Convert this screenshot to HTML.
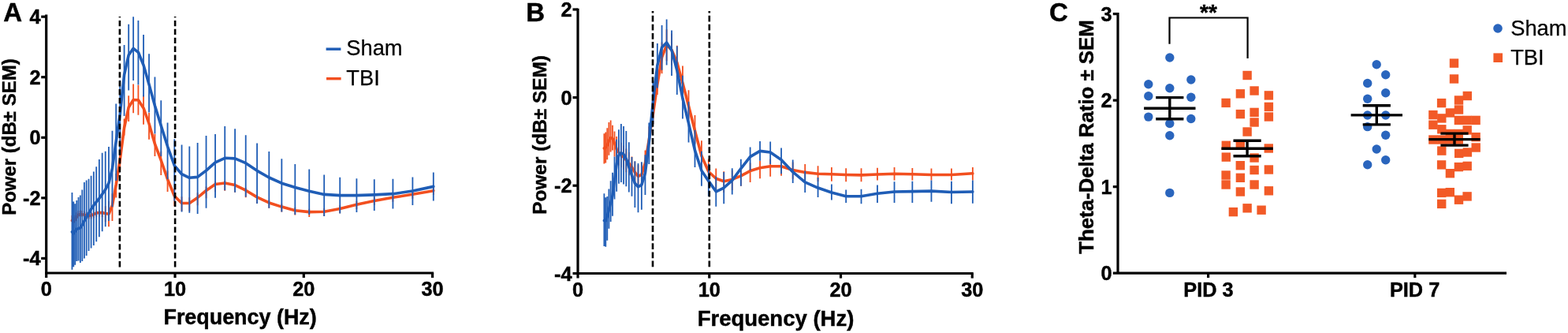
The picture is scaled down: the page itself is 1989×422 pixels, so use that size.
<!DOCTYPE html>
<html><head><meta charset="utf-8"><title>Figure</title>
<style>html,body{margin:0;padding:0;background:#fff;width:1989px;height:422px;overflow:hidden}svg{display:block}</style>
</head><body>
<svg width="1989" height="422" viewBox="0 0 1989 422" font-family="'Liberation Sans', Arial, sans-serif">
<rect width="1989" height="422" fill="#fff"/>
<g stroke="#000" stroke-width="3.2" fill="none">
<path d="M58.7 18.6V352"/>
<path d="M57.2 346H550.1"/>
<path d="M52.2 21.18H58.7"/>
<path d="M52.2 97.74H58.7"/>
<path d="M52.2 174.3H58.7"/>
<path d="M52.2 250.86H58.7"/>
<path d="M52.2 327.42H58.7"/>
<path d="M222 346V352"/>
<path d="M385.3 346V352"/>
<path d="M548.6 346V352"/>
</g>
<path d="M91.44 273V280.5M93.3 274.96V282.5M95.27 272.74V280.31M97.34 269.37V276.97M99.54 266.92V274.57M101.86 266.48V274.16M104.31 267.01V274.72M106.9 267.72V275.47M109.64 268.95V276.74M112.54 269.59V277.42M115.6 269.28V277.14M118.83 268.32V276.21M122.25 266.85V274.78M125.86 266.59V274.55M129.67 267V275M133.71 261.15V281.3M137.97 255V287.3M142.47 245.16V280.1M147.23 220.05V250.48M152.27 189.32V215.23M157.58 150.4V171.8M163.2 121.3V154M169.14 106.6V143.3M175.41 107.8V145.7M182.05 120.5V157.8M189.05 143V176.8M196.46 169.81V198M204.29 191.66V222M212.56 216.58V242.89M221.3 239.07V261.34M230.54 249.16V267.4M240.31 250.3V267.41M250.63 244.37V260.35M261.53 236.48V251.34M273.06 229.65V243.37M285.24 229.2V241.8M298.11 231.6V243.7M311.72 238.12V250.3M326.09 246.64V257.9M341.29 253.56V263.8M357.34 258.49V268.6M374.31 262.96V272.6M392.25 264.64V275M411.2 264.06V274.1M431.23 260.18V270.29M452.4 254.85V265.04M474.77 249.81V260.08M498.41 245.5V255.84M523.4 241.31V251.73M549.8 236.5V247" stroke="#f24f1f" stroke-width="1.8" fill="none"/>
<polyline points="91.44,279.39 93.3,281.09 95.27,278.59 97.34,274.95 99.54,272.24 101.86,271.52 104.31,271.79 106.9,272.23 109.64,273.19 112.54,273.56 115.6,272.98 118.83,271.75 122.25,270.01 125.86,269.48 129.67,269.62 133.71,270.59 137.97,271.26 142.47,260.26 147.23,233.99 152.27,202.08 157.58,162 163.2,135.92 169.14,126.43 175.41,126.82 182.05,136.92 189.05,156.77 196.46,182.48 204.29,203.23 212.56,227.06 221.3,248.45 230.54,257.44 240.31,257.48 250.63,250.46 261.53,241.47 273.06,233.54 285.24,232 298.11,234.52 311.72,241.21 326.09,249.9 341.29,256.99 357.34,262.1 374.31,266.75 392.25,268.6 411.2,268.2 431.23,264.49 452.4,259.33 474.77,254.47 498.41,250.33 523.4,246.32 549.8,241.68" stroke="#f24f1f" stroke-width="3.6" fill="none" stroke-linejoin="round" stroke-linecap="round"/>
<path d="M91.44 244V341.8M93.3 255.4V338.2M95.27 258.2V335.8M97.34 253.9V331.1M99.54 250.1V330.6M101.86 247.5V333M104.31 240.4V331.1M106.9 230.9V327.5M109.64 228.6V324M112.54 226.7V318M115.6 222.7V314.5M118.83 217.4V311M122.25 211.3V306.2M125.86 202V300.3M129.67 193.7V293.2M133.71 191.8V287.3M137.97 185.9V280.1M142.47 165.8V262.15M147.23 131.5V229.06M152.27 101.72V195.5M157.58 56.9V146.9M163.2 30.8V114.5M169.14 21.3V102.1M175.41 26.1V107.4M182.05 44V122.5M189.05 68.2V142.4M196.46 97.6V169.5M204.29 127.3V197.97M212.56 155.4V227.21M221.3 176.2V254.7M230.54 183.5V268.6M240.31 185.5V269.8M250.63 181V270.9M261.53 171.9V263.8M273.06 170V250.8M285.24 160.1V241.3M298.11 163.2V243.7M311.72 171.2V249.6M326.09 181.4V257.9M341.29 192V263.8M357.34 201.3V268.6M374.31 207.9V272.1M392.25 214.6V272M411.2 221.5V274.1M431.23 224.8V270.6M452.4 226.3V268.9M474.77 227.2V267M498.41 226.7V264.6M523.4 224.4V259.9M549.8 218.4V254.5" stroke="#1f5db6" stroke-width="1.8" fill="none"/>
<polyline points="91.44,293.83 93.3,295.98 95.27,293.23 97.34,290.33 99.54,289.61 101.86,288.75 104.31,285.2 106.9,280.03 109.64,275.26 112.54,270.21 115.6,265.08 118.83,260.17 122.25,255.82 125.86,251.36 129.67,246.08 133.71,240.21 137.97,232.17 142.47,213.22 147.23,179.12 152.27,144.56 157.58,94.95 163.2,69.68 169.14,61.29 175.41,66.3 182.05,82.47 189.05,106.92 196.46,133.93 204.29,159.33 212.56,185.49 221.3,209.9 230.54,220.73 240.31,225.32 250.63,224.38 261.53,216.17 273.06,205.84 285.24,200.3 298.11,200.84 311.72,206.71 326.09,216.32 341.29,224.99 357.34,232.23 374.31,237.59 392.25,242.29 411.2,246.41 431.23,247.6 452.4,247.6 474.77,246.89 498.41,245.67 523.4,242.01 549.8,236.38" stroke="#1f5db6" stroke-width="3.6" fill="none" stroke-linejoin="round" stroke-linecap="round"/>
<g stroke="#000" stroke-width="2.6" stroke-dasharray="7.3 3.6" stroke-dashoffset="5.9" fill="none">
<path d="M151.9 20.9V341"/><path d="M222.1 20.9V341"/>
</g>
<text x="51.6" y="30.24" font-size="25.3" font-weight="bold" text-anchor="end" stroke="#000" stroke-width="0.45">4</text>
<text x="51.6" y="106.8" font-size="25.3" font-weight="bold" text-anchor="end" stroke="#000" stroke-width="0.45">2</text>
<text x="51.6" y="183.36" font-size="25.3" font-weight="bold" text-anchor="end" stroke="#000" stroke-width="0.45">0</text>
<text x="51.6" y="259.92" font-size="25.3" font-weight="bold" text-anchor="end" stroke="#000" stroke-width="0.45">-2</text>
<text x="51.6" y="336.48" font-size="25.3" font-weight="bold" text-anchor="end" stroke="#000" stroke-width="0.45">-4</text>
<text x="58.7" y="375.2" font-size="25.3" font-weight="bold" text-anchor="middle" stroke="#000" stroke-width="0.45">0</text>
<text x="222" y="375.2" font-size="25.3" font-weight="bold" text-anchor="middle" stroke="#000" stroke-width="0.45">10</text>
<text x="385.3" y="375.2" font-size="25.3" font-weight="bold" text-anchor="middle" stroke="#000" stroke-width="0.45">20</text>
<text x="548.6" y="375.2" font-size="25.3" font-weight="bold" text-anchor="middle" stroke="#000" stroke-width="0.45">30</text>
<text x="304.6" y="411.2" font-size="26.9" font-weight="bold" text-anchor="middle" stroke="#000" stroke-width="0.45">Frequency (Hz)</text>
<text x="0" y="0" font-size="24" font-weight="bold" text-anchor="middle" stroke="#000" stroke-width="0.45" transform="translate(20.2 173.6) rotate(-90)">Power (dB&#177; SEM)</text>
<text x="4.2" y="27.4" font-size="33" font-weight="bold" text-anchor="start" stroke="#000" stroke-width="0.45">A</text>
<path d="M413.6 62.2H432.4" stroke="#1f5db6" stroke-width="3.4"/>
<path d="M414 99.7H432.6" stroke="#f24f1f" stroke-width="3.4"/>
<text x="439.3" y="70.3" font-size="27.3" font-weight="normal" text-anchor="start" stroke="#000" stroke-width="0.25">Sham</text>
<text x="439.3" y="107.8" font-size="27.3" font-weight="normal" text-anchor="start" stroke="#000" stroke-width="0.25">TBI</text>
<g stroke="#000" stroke-width="3.2" fill="none">
<path d="M733 10.7V352.6"/>
<path d="M731.5 346.5H1234.75"/>
<path d="M726.5 12H733"/>
<path d="M726.5 123.6H733"/>
<path d="M726.5 235.2H733"/>
<path d="M726.5 346.5H733"/>
<path d="M899.75 346.5V352.6"/>
<path d="M1066.5 346.5V352.6"/>
<path d="M1233.25 346.5V352.6"/>
</g>
<path d="M766.39 169.3V207.5M768.29 167.5V206.6M770.29 162.2V202.2M772.41 155.1V196.8M774.65 152.4V192.4M777.02 158.7V190.6M779.52 166.6V198.6M782.16 172.9V205.73M784.96 177.69V209.77M787.91 180.87V212.21M791.03 184.47V215.06M794.32 188.45V218.3M797.81 193.1V222.2M801.49 198.6V226.96M805.38 204.8V233.09M809.5 209.11V237.9M813.84 206.24V235.54M818.44 190.59V220.39M823.29 160.35V190.65M828.42 126.7V157.5M833.84 88.6V119.9M839.58 53.6V93.3M845.63 37.28V77.13M852.03 42.62V82.63M858.79 57.8V97.96M865.94 83.5V123.16M873.5 114.3V151.59M881.48 145.9V182.34M889.92 178.2V213.54M898.83 201.58V233M908.26 213.6V241.09M918.21 217.2V243.97M928.74 215.68V240.92M939.86 211.99V235.7M951.61 206.6V231M964.04 203.7V226.2M977.17 201.41V223.8M991.04 201.07V222.7M1005.7 205.43V226.67M1021.2 208V228.86M1037.57 210.3V230.02M1054.88 212V229.8M1073.17 213.2V230.2M1092.5 213.2V230.2M1112.93 212.7V228.6M1134.51 212V228.6M1157.33 213V228.6M1181.44 213.5V228.6M1206.92 213.5V228.6M1233.85 212V228.6" stroke="#f24f1f" stroke-width="1.8" fill="none"/>
<polyline points="766.39,187.97 768.29,187.11 770.29,184.12 772.41,178.28 774.65,174.6 777.02,175.39 779.52,181.51 782.16,188.94 784.96,193.28 787.91,196 791.03,199.15 794.32,202.68 797.81,206.87 801.49,211.93 805.38,218.35 809.5,223.45 813.84,221.38 818.44,206.53 823.29,177.08 828.42,144.22 833.84,106.92 839.58,72.72 845.63,57.19 852.03,63.32 858.79,79.3 865.94,105.14 873.5,134.21 881.48,165.61 889.92,197.45 898.83,217.54 908.26,226.28 918.21,229.8 928.74,227.39 939.86,222.81 951.61,216.54 964.04,212.75 977.17,210.8 991.04,210.8 1005.7,215.5 1021.2,218.41 1037.57,220.29 1054.88,220.8 1073.17,221.5 1092.5,221.9 1112.93,221 1134.51,220.3 1157.33,220.81 1181.44,221.5 1206.92,221.5 1233.85,219.8" stroke="#f24f1f" stroke-width="3.6" fill="none" stroke-linejoin="round" stroke-linecap="round"/>
<path d="M766.39 245.3V311.9M768.29 250.16V312.8M770.29 248.9V304.8M772.41 239.39V289.7M774.65 229.37V280.9M777.02 218.87V273.7M779.52 198.55V252.4M782.16 176.65V242.7M784.96 164.2V232.74M787.91 157.1V231M791.03 160.1V233.6M794.32 166V236.3M797.81 180.3V243.4M801.49 199V248.8M805.38 204.3V263.1M809.5 207V269.3M813.84 205.2V265.8M818.44 196.3V247.1M823.29 155.39V208.12M828.42 102.52V157.18M833.84 54.9V111.49M839.58 32V88.8M845.63 24.5V82.6M852.03 38.5V96M858.79 58.6V119.9M865.94 95.84V150.4M873.5 128.72V180.6M881.48 164.79V212M889.92 191.8V235.7M898.83 207.74V248.69M908.26 223.8V261.8M918.21 217.9V258.2M928.74 213.2V246.4M939.86 201.8V235.7M951.61 186.6V215.9M964.04 179V203.7M977.17 179.4V208.12M991.04 187.4V220.3M1005.7 202.5V232.1M1021.2 216.7V244M1037.57 225V249.9M1054.88 233.6V253.5M1073.17 240.4V257M1092.5 239.7V258.2M1112.93 234.5V257M1134.51 230.2V257M1157.33 229.8V257M1181.44 228.6V255.8M1206.92 229.8V258.2M1233.85 228.6V257.7" stroke="#1f5db6" stroke-width="1.8" fill="none"/>
<polyline points="766.39,279.48 768.29,279.83 770.29,274.06 772.41,265.78 774.65,257 777.02,247.73 779.52,228.64 782.16,207.97 784.96,196.76 787.91,193.77 791.03,195.5 794.32,201.43 797.81,211.74 801.49,222.08 805.38,232.34 809.5,236.77 813.84,234.38 818.44,219.21 823.29,180.01 828.42,128.85 833.84,82.94 839.58,60.02 845.63,53.91 852.03,63.88 858.79,89.02 865.94,124.74 873.5,156.1 881.48,190.65 889.92,216.13 898.83,229.41 908.26,242.8 918.21,238.03 928.74,228.56 939.86,213.52 951.61,198.66 964.04,191.4 977.17,193.08 991.04,202.53 1005.7,217.9 1021.2,230.96 1037.57,238.05 1054.88,244.02 1073.17,248.7 1092.5,248.7 1112.93,245.21 1134.51,243.01 1157.33,242.6 1181.44,242.1 1206.92,243.5 1233.85,243" stroke="#1f5db6" stroke-width="3.6" fill="none" stroke-linejoin="round" stroke-linecap="round"/>
<g stroke="#000" stroke-width="2.6" stroke-dasharray="7.8 3.3" stroke-dashoffset="5.4" fill="none">
<path d="M828.0 14V340"/><path d="M899.8 14V340"/>
</g>
<text x="725.6" y="21.06" font-size="25.3" font-weight="bold" text-anchor="end" stroke="#000" stroke-width="0.45">2</text>
<text x="725.6" y="132.66" font-size="25.3" font-weight="bold" text-anchor="end" stroke="#000" stroke-width="0.45">0</text>
<text x="725.6" y="244.26" font-size="25.3" font-weight="bold" text-anchor="end" stroke="#000" stroke-width="0.45">-2</text>
<text x="725.6" y="355.86" font-size="25.3" font-weight="bold" text-anchor="end" stroke="#000" stroke-width="0.45">-4</text>
<text x="733" y="376.2" font-size="25.3" font-weight="bold" text-anchor="middle" stroke="#000" stroke-width="0.45">0</text>
<text x="899.75" y="376.2" font-size="25.3" font-weight="bold" text-anchor="middle" stroke="#000" stroke-width="0.45">10</text>
<text x="1066.5" y="376.2" font-size="25.3" font-weight="bold" text-anchor="middle" stroke="#000" stroke-width="0.45">20</text>
<text x="1233.25" y="376.2" font-size="25.3" font-weight="bold" text-anchor="middle" stroke="#000" stroke-width="0.45">30</text>
<text x="984" y="413" font-size="27.5" font-weight="bold" text-anchor="middle" stroke="#000" stroke-width="0.45">Frequency (Hz)</text>
<text x="0" y="0" font-size="24.4" font-weight="bold" text-anchor="middle" stroke="#000" stroke-width="0.45" transform="translate(693.1 170.9) rotate(-90)">Power (dB&#177; SEM)</text>
<text x="667.3" y="27.4" font-size="33" font-weight="bold" text-anchor="start" stroke="#000" stroke-width="0.45">B</text>
<g stroke="#000" stroke-width="3.2" fill="none">
<path d="M1418 16.1V346.2"/>
<path d="M1411.8 346.2H1911"/>
<path d="M1411.8 17.61H1418"/>
<path d="M1411.8 127.14H1418"/>
<path d="M1411.8 236.67H1418"/>
<path d="M1532.6 346.2V352"/>
<path d="M1794.8 346.2V352"/>
</g>
<text x="1410.6" y="26.67" font-size="25.3" font-weight="bold" text-anchor="end" stroke="#000" stroke-width="0.45">3</text>
<text x="1410.6" y="136.2" font-size="25.3" font-weight="bold" text-anchor="end" stroke="#000" stroke-width="0.45">2</text>
<text x="1410.6" y="245.73" font-size="25.3" font-weight="bold" text-anchor="end" stroke="#000" stroke-width="0.45">1</text>
<text x="1410.6" y="355.26" font-size="25.3" font-weight="bold" text-anchor="end" stroke="#000" stroke-width="0.45">0</text>
<text x="1533" y="376.3" font-size="25.3" font-weight="bold" text-anchor="middle" stroke="#000" stroke-width="0.45">PID 3</text>
<text x="1794.6" y="376.3" font-size="25.3" font-weight="bold" text-anchor="middle" stroke="#000" stroke-width="0.45">PID 7</text>
<text x="0" y="0" font-size="25.8" font-weight="bold" text-anchor="middle" stroke="#000" stroke-width="0.45" transform="translate(1387 173.5) rotate(-90)">Theta-Delta Ratio &#177; SEM</text>
<text x="1330.9" y="27.4" font-size="33" font-weight="bold" text-anchor="start" stroke="#000" stroke-width="0.45">C</text>
<path d="M1483.5 55.7V22.5H1582.6V74" stroke="#000" stroke-width="2.2" fill="none"/>
<text x="1533" y="24.5" font-size="28" font-weight="bold" text-anchor="middle" stroke="#000" stroke-width="0.45">**</text>
<g fill="#2a65bd">
<circle cx="1483.8" cy="73" r="5.7"/>
<circle cx="1510.8" cy="101" r="5.7"/>
<circle cx="1456.8" cy="106.8" r="5.7"/>
<circle cx="1483.8" cy="111.7" r="5.7"/>
<circle cx="1456.8" cy="121.8" r="5.7"/>
<circle cx="1510.8" cy="123.2" r="5.7"/>
<circle cx="1456.8" cy="148.1" r="5.7"/>
<circle cx="1510.8" cy="150.5" r="5.7"/>
<circle cx="1483.8" cy="156.5" r="5.7"/>
<circle cx="1483.8" cy="171.8" r="5.7"/>
<circle cx="1483.8" cy="244.4" r="5.7"/>
<circle cx="1746.2" cy="81.8" r="5.7"/>
<circle cx="1757.7" cy="94.8" r="5.7"/>
<circle cx="1734.7" cy="105.5" r="5.7"/>
<circle cx="1757.7" cy="117.8" r="5.7"/>
<circle cx="1734.7" cy="125.2" r="5.7"/>
<circle cx="1734.7" cy="146" r="5.7"/>
<circle cx="1757.7" cy="146" r="5.7"/>
<circle cx="1734.7" cy="160.6" r="5.7"/>
<circle cx="1757.7" cy="171.2" r="5.7"/>
<circle cx="1746.2" cy="189" r="5.7"/>
<circle cx="1757.7" cy="202.8" r="5.7"/>
<circle cx="1734.7" cy="208.7" r="5.7"/>
</g>
<g fill="#f25a27">
<rect x="1576.4" y="89.8" width="11.4" height="11.4"/>
<rect x="1585.4" y="109.3" width="11.4" height="11.4"/>
<rect x="1567.7" y="113.1" width="11.4" height="11.4"/>
<rect x="1603.7" y="115.2" width="11.4" height="11.4"/>
<rect x="1549.4" y="124.7" width="11.4" height="11.4"/>
<rect x="1603.7" y="129.7" width="11.4" height="11.4"/>
<rect x="1585.4" y="136.7" width="11.4" height="11.4"/>
<rect x="1567.7" y="138.9" width="11.4" height="11.4"/>
<rect x="1603.7" y="142.3" width="11.4" height="11.4"/>
<rect x="1585.4" y="149.3" width="11.4" height="11.4"/>
<rect x="1576.4" y="161.3" width="11.4" height="11.4"/>
<rect x="1549.6" y="178.6" width="11.4" height="11.4"/>
<rect x="1567.6" y="177.8" width="11.4" height="11.4"/>
<rect x="1603.6" y="182.3" width="11.4" height="11.4"/>
<rect x="1549.6" y="193.4" width="11.4" height="11.4"/>
<rect x="1585.4" y="194.3" width="11.4" height="11.4"/>
<rect x="1567.6" y="204" width="11.4" height="11.4"/>
<rect x="1585.4" y="209.8" width="11.4" height="11.4"/>
<rect x="1603.7" y="209.3" width="11.4" height="11.4"/>
<rect x="1549.4" y="216.3" width="11.4" height="11.4"/>
<rect x="1567.7" y="219.6" width="11.4" height="11.4"/>
<rect x="1549.4" y="228.3" width="11.4" height="11.4"/>
<rect x="1585.4" y="228.3" width="11.4" height="11.4"/>
<rect x="1567.7" y="237.3" width="11.4" height="11.4"/>
<rect x="1603.7" y="236.1" width="11.4" height="11.4"/>
<rect x="1558.7" y="262.9" width="11.4" height="11.4"/>
<rect x="1576.4" y="258.1" width="11.4" height="11.4"/>
<rect x="1594.4" y="260.5" width="11.4" height="11.4"/>
<rect x="1838.8" y="74.4" width="11.4" height="11.4"/>
<rect x="1838.8" y="94.3" width="11.4" height="11.4"/>
<rect x="1855.6" y="115.8" width="11.4" height="11.4"/>
<rect x="1844.8" y="121.3" width="11.4" height="11.4"/>
<rect x="1822.9" y="124.9" width="11.4" height="11.4"/>
<rect x="1844.8" y="133.3" width="11.4" height="11.4"/>
<rect x="1833.7" y="137.3" width="11.4" height="11.4"/>
<rect x="1812.2" y="139.9" width="11.4" height="11.4"/>
<rect x="1823.1" y="144.2" width="11.4" height="11.4"/>
<rect x="1844.7" y="146.7" width="11.4" height="11.4"/>
<rect x="1855.5" y="146.7" width="11.4" height="11.4"/>
<rect x="1866.4" y="146.7" width="11.4" height="11.4"/>
<rect x="1812.2" y="152.5" width="11.4" height="11.4"/>
<rect x="1823.1" y="158.1" width="11.4" height="11.4"/>
<rect x="1855.5" y="159.2" width="11.4" height="11.4"/>
<rect x="1833.7" y="163.8" width="11.4" height="11.4"/>
<rect x="1844.6" y="163.8" width="11.4" height="11.4"/>
<rect x="1866.4" y="168" width="11.4" height="11.4"/>
<rect x="1812.2" y="171.3" width="11.4" height="11.4"/>
<rect x="1823.1" y="171.3" width="11.4" height="11.4"/>
<rect x="1833.7" y="171.3" width="11.4" height="11.4"/>
<rect x="1844.6" y="171.3" width="11.4" height="11.4"/>
<rect x="1866.5" y="181.3" width="11.4" height="11.4"/>
<rect x="1823.1" y="185.4" width="11.4" height="11.4"/>
<rect x="1845" y="188.7" width="11.4" height="11.4"/>
<rect x="1855.7" y="187.3" width="11.4" height="11.4"/>
<rect x="1822.9" y="203.2" width="11.4" height="11.4"/>
<rect x="1855.5" y="204.7" width="11.4" height="11.4"/>
<rect x="1844.7" y="205.9" width="11.4" height="11.4"/>
<rect x="1833.7" y="214" width="11.4" height="11.4"/>
<rect x="1823" y="238.7" width="11.4" height="11.4"/>
<rect x="1833.6" y="238" width="11.4" height="11.4"/>
<rect x="1844.8" y="247.5" width="11.4" height="11.4"/>
<rect x="1855.4" y="243.2" width="11.4" height="11.4"/>
<rect x="1823" y="252.7" width="11.4" height="11.4"/>
</g>
<path d="M1451.1 137.2H1516.5M1466.2 123.6H1501.4M1466.2 150.8H1501.4M1483.8 123.6V150.8" stroke="#000" stroke-width="3.4" fill="none"/>
<path d="M1549.4 188.2H1614.8M1564.5 178.3H1599.7M1564.5 197.7H1599.7M1582.1 178.3V197.7" stroke="#000" stroke-width="3.4" fill="none"/>
<path d="M1713.6 145.9H1779M1728.7 133.8H1763.9M1728.7 157.9H1763.9M1746.3 133.8V157.9" stroke="#000" stroke-width="3.4" fill="none"/>
<path d="M1812.3 176.6H1877.7M1827.4 169.1H1862.6M1827.4 184.1H1862.6M1845 169.1V184.1" stroke="#000" stroke-width="3.4" fill="none"/>
<circle cx="1900" cy="36" r="5.8" fill="#2a65bd"/>
<rect x="1894.4" y="67.4" width="11.6" height="11.6" fill="#f25a27"/>
<text x="1916.2" y="45.2" font-size="27.3" font-weight="normal" text-anchor="start" stroke="#000" stroke-width="0.25">Sham</text>
<text x="1916.2" y="81.7" font-size="27.3" font-weight="normal" text-anchor="start" stroke="#000" stroke-width="0.25">TBI</text>
</svg>
</body></html>
